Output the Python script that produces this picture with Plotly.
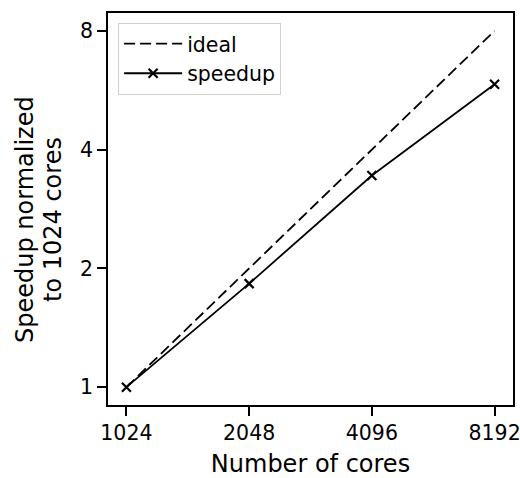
import math
import plotly.graph_objects as go

cores = [1024, 2048, 4096, 8192]
ideal = [1, 2, 4, 8]
speedup = [1.0, 1.83, 3.44, 5.86]
x_ticks = [1024, 2048, 4096, 8192]
y_ticks = [1, 2, 4, 8]
y_title_lines = ["Speedup normalized", "to 1024 cores"]

L2 = math.log10(2)
FONT = "DejaVu Sans"

fig = go.Figure()
fig.add_trace(go.Scatter(
    x=cores, y=ideal, mode="lines", name="ideal",
    line=dict(color="black", width=1.8, dash="11px,5px"),
))
fig.add_trace(go.Scatter(
    x=cores, y=speedup, mode="lines+markers", name="speedup",
    line=dict(color="black", width=1.8),
    marker=dict(symbol="x-thin", size=9, color="black",
                line=dict(color="black", width=2.2)),
))

axis_common = dict(
    showgrid=False, zeroline=False, showline=True, linecolor="black",
    linewidth=1.6, mirror=True, ticks="outside", ticklen=9, tickwidth=1.6,
    tickcolor="black", tickfont=dict(family=FONT, size=20.5, color="black"),
    automargin=False, ticklabeloverflow="allow",
)

fig.update_xaxes(
    type="log", range=[9.85 * L2, 13.15 * L2],
    tickvals=x_ticks, ticktext=[str(v) for v in x_ticks],
    title=dict(text="Number of cores", font=dict(family=FONT, size=24, color="black"),
               standoff=15),
    **axis_common,
)
fig.update_yaxes(
    type="log", range=[-0.15 * L2, 3.15 * L2],
    tickvals=y_ticks, ticktext=[str(v) for v in y_ticks],
    **axis_common,
)

# two-line y title, placed as rotated annotations (plot area is 405 px wide from x=108)
for px, txt in zip([25, 53], y_title_lines):
    fig.add_annotation(
        text=txt, xref="paper", yref="paper",
        x=(px - 108) / 405, y=(405 - 220) / 392,
        xanchor="center", yanchor="middle", textangle=-90, showarrow=False,
        font=dict(family=FONT, size=24, color="black"),
    )

fig.update_layout(
    width=520, height=478,
    margin=dict(l=108, r=7, t=13, b=73),
    paper_bgcolor="white", plot_bgcolor="white",
    font=dict(family=FONT, color="black"),
    showlegend=True,
    legend=dict(
        x=0.025, y=0.975, xanchor="left", yanchor="top",
        bgcolor="rgba(255,255,255,0.8)", bordercolor="#d0d0d0", borderwidth=1,
        font=dict(family=FONT, size=20.5, color="black"),
        itemwidth=58,
    ),
)

fig.write_html("out.html")
